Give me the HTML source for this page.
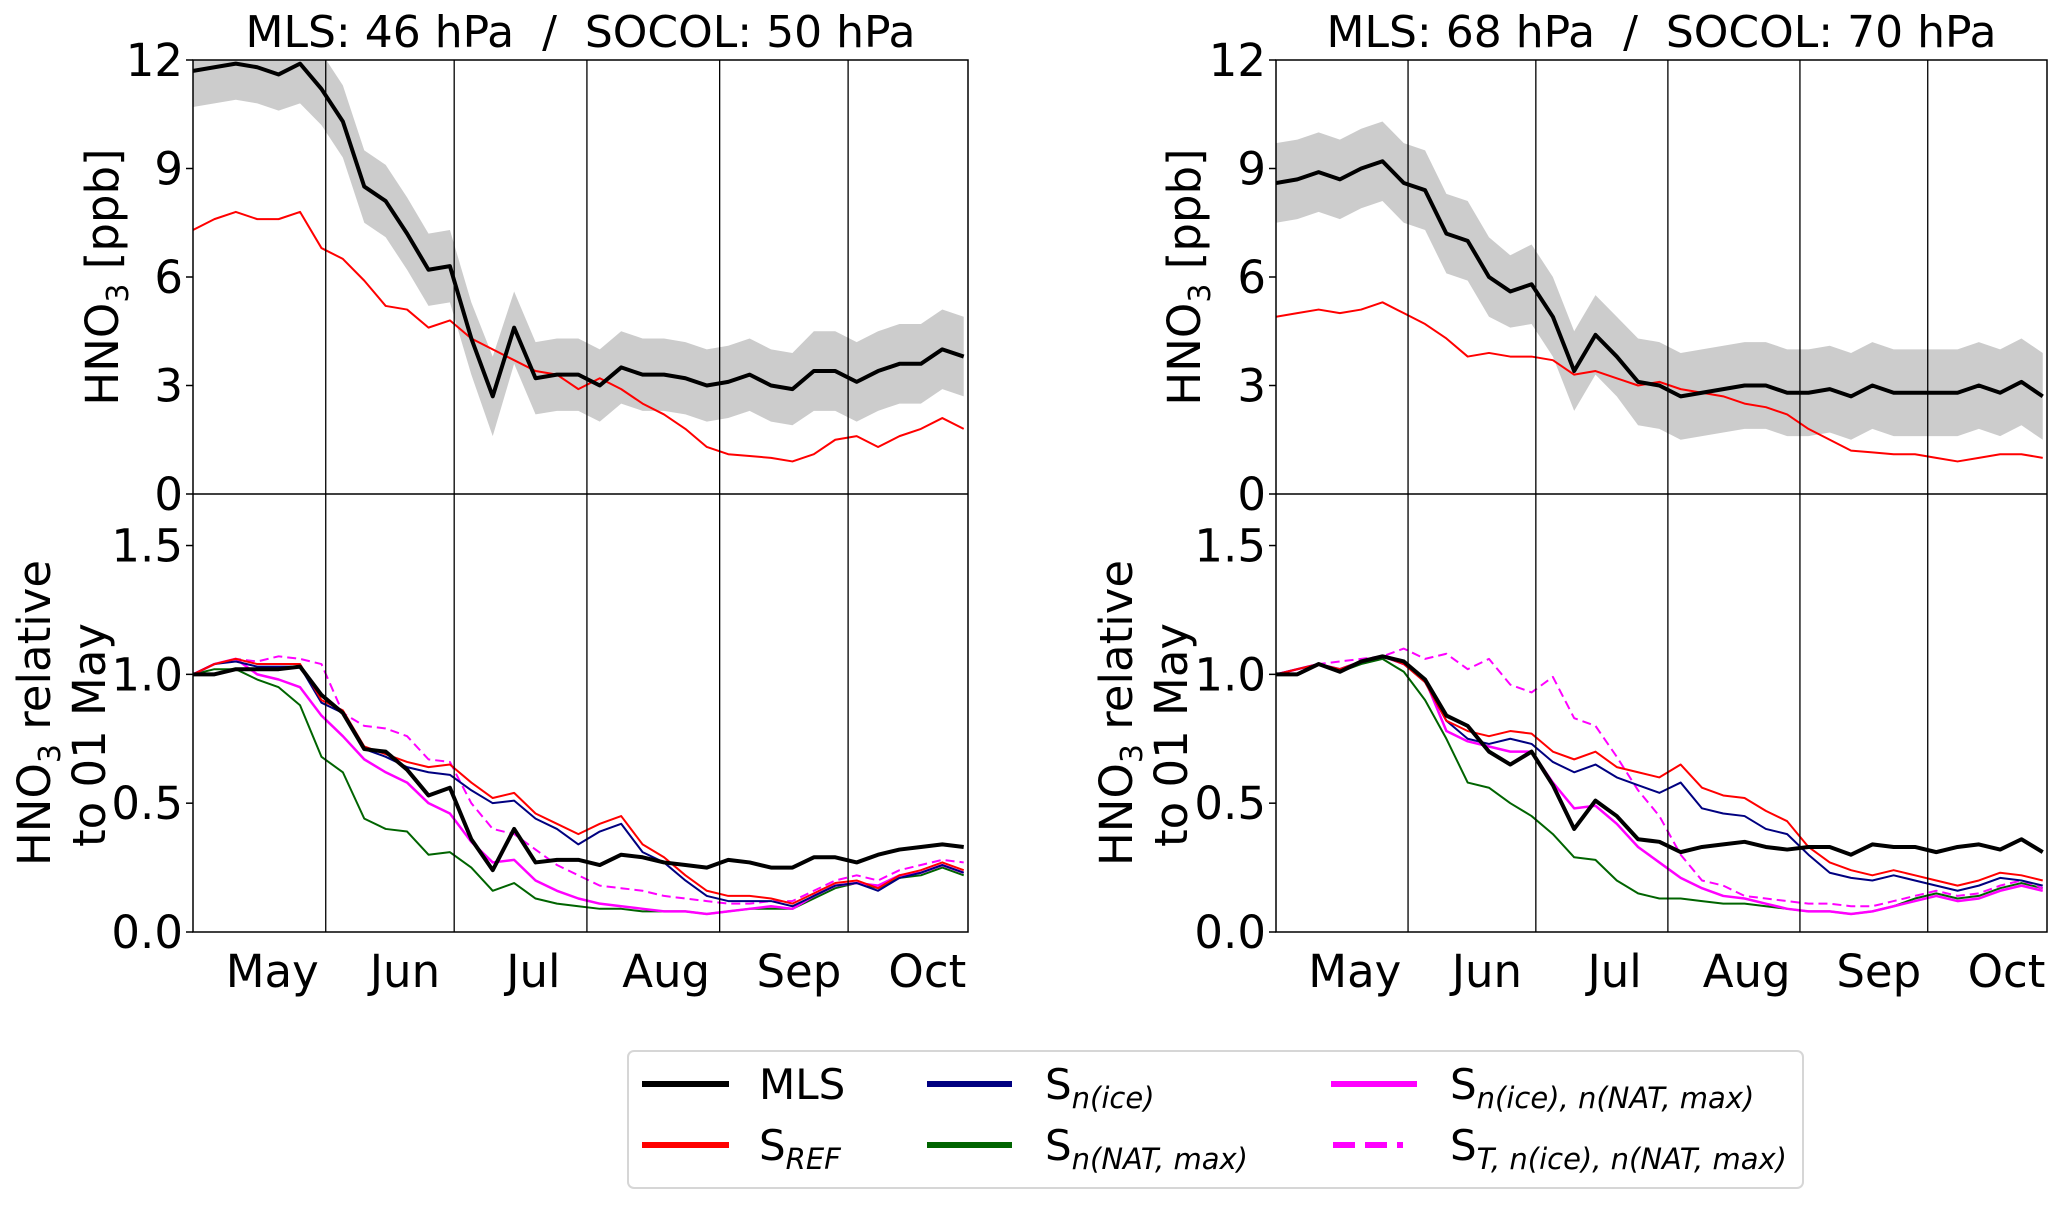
<!DOCTYPE html>
<html><head><meta charset="utf-8"><style>
html,body{margin:0;padding:0;background:#fff;}
svg{display:block;font-family:"DejaVu Sans","Liberation Sans",sans-serif;}
</style></head><body>
<svg id="chart" width="2067" height="1208" viewBox="0 0 2067 1208" xmlns="http://www.w3.org/2000/svg">
  <g>
    <rect x="628" y="1051" width="1175" height="137" rx="6" fill="#fff" stroke="#d6d6d6" stroke-width="2"/>
    <g><line x1="642" y1="1084" x2="729" y2="1084" stroke="#000" stroke-width="6"/><text x="759" y="1099" font-size="42">MLS</text></g>
    <g><line x1="642" y1="1145" x2="729" y2="1145" stroke="#f00" stroke-width="6"/><text x="759" y="1160" font-size="42">S<tspan font-size="29" font-style="italic" dy="9">REF</tspan></text></g>
    <g><line x1="927" y1="1084" x2="1012" y2="1084" stroke="#000080" stroke-width="6"/><text x="1045" y="1099" font-size="42">S<tspan font-size="29" font-style="italic" dy="9">n(ice)</tspan></text></g>
    <g><line x1="927" y1="1145" x2="1012" y2="1145" stroke="#006400" stroke-width="6"/><text x="1045" y="1160" font-size="42">S<tspan font-size="29" font-style="italic" dy="9">n(NAT, max)</tspan></text></g>
    <g><line x1="1331" y1="1084" x2="1417" y2="1084" stroke="#f0f" stroke-width="6"/><text x="1450" y="1099" font-size="42">S<tspan font-size="29" font-style="italic" dy="9">n(ice), n(NAT, max)</tspan></text></g>
    <g><line x1="1333" y1="1145" x2="1417" y2="1145" stroke="#f0f" stroke-width="6" stroke-dasharray="22,10,22,10,6"/><text x="1450" y="1160" font-size="42">S<tspan font-size="29" font-style="italic" dy="9">T, n(ice), n(NAT, max)</tspan></text></g>
  </g>
</svg>
<script>
const days=[0,5,10,15,20,25,30,35,40,45,50,55,60,65,70,75,80,85,90,95,100,105,110,115,120,125,130,135,140,145,150,155,160,165,170,175,180];
const monthNames=["May","Jun","Jul","Aug","Sep","Oct"];
const monthStarts=[0,31,61,92,123,153];
const topTicks=[0,3,6,9,12];
const botTicks=[0.0,0.5,1.0,1.5];
const botTickLabels=["0.0","0.5","1.0","1.5"];
// Left (46/50 hPa)
const L_mls=[11.7,11.8,11.9,11.8,11.6,11.9,11.2,10.3,8.5,8.1,7.2,6.2,6.3,4.3,2.7,4.6,3.2,3.3,3.3,3.0,3.5,3.3,3.3,3.2,3.0,3.1,3.3,3.0,2.9,3.4,3.4,3.1,3.4,3.6,3.6,4.0,3.8];
const L_err=[1.0,1.0,1.0,1.0,1.0,1.1,1.0,1.0,1.0,1.0,1.0,1.0,1.0,1.0,1.1,1.0,1.0,1.0,1.0,1.0,1.0,1.0,1.0,1.0,1.0,1.0,1.0,1.0,1.0,1.1,1.1,1.1,1.1,1.1,1.1,1.1,1.1];
const L_ref=[7.3,7.6,7.8,7.6,7.6,7.8,6.8,6.5,5.9,5.2,5.1,4.6,4.8,4.3,4.0,3.7,3.4,3.3,2.9,3.2,2.9,2.5,2.2,1.8,1.3,1.1,1.05,1.0,0.9,1.1,1.5,1.6,1.3,1.6,1.8,2.1,1.8];
const L_rMls=[1.0,1.0,1.02,1.02,1.02,1.03,0.92,0.85,0.71,0.70,0.63,0.53,0.56,0.36,0.24,0.40,0.27,0.28,0.28,0.26,0.30,0.29,0.27,0.26,0.25,0.28,0.27,0.25,0.25,0.29,0.29,0.27,0.30,0.32,0.33,0.34,0.33];
const L_rRef=[1.0,1.04,1.06,1.04,1.04,1.04,0.90,0.86,0.72,0.69,0.66,0.64,0.65,0.58,0.52,0.54,0.46,0.42,0.38,0.42,0.45,0.34,0.29,0.22,0.16,0.14,0.14,0.13,0.11,0.15,0.19,0.20,0.17,0.22,0.24,0.27,0.24];
const L_rIce=[1.0,1.04,1.05,1.03,1.03,1.03,0.89,0.85,0.71,0.68,0.64,0.62,0.61,0.55,0.50,0.51,0.44,0.40,0.34,0.39,0.42,0.31,0.27,0.20,0.14,0.12,0.12,0.12,0.10,0.14,0.18,0.19,0.16,0.21,0.23,0.26,0.23];
const L_rNat=[1.0,1.02,1.02,0.98,0.95,0.88,0.68,0.62,0.44,0.40,0.39,0.30,0.31,0.25,0.16,0.19,0.13,0.11,0.10,0.09,0.09,0.08,0.08,0.08,0.07,0.08,0.09,0.09,0.09,0.13,0.17,0.19,0.17,0.21,0.22,0.25,0.22];
const L_rIceNat=[1.0,1.04,1.06,1.0,0.98,0.95,0.84,0.76,0.67,0.62,0.58,0.50,0.46,0.35,0.27,0.28,0.20,0.16,0.13,0.11,0.10,0.09,0.08,0.08,0.07,0.08,0.09,0.10,0.09,0.14,0.18,0.19,0.18,0.22,0.23,0.26,0.23];
const L_rT=[1.0,1.04,1.06,1.05,1.07,1.06,1.04,0.85,0.80,0.79,0.76,0.67,0.66,0.50,0.40,0.38,0.32,0.26,0.22,0.18,0.17,0.16,0.14,0.13,0.12,0.11,0.11,0.12,0.12,0.16,0.20,0.22,0.20,0.24,0.26,0.28,0.27];
// Right (68/70 hPa)
const R_mls=[8.6,8.7,8.9,8.7,9.0,9.2,8.6,8.4,7.2,7.0,6.0,5.6,5.8,4.9,3.4,4.4,3.8,3.1,3.0,2.7,2.8,2.9,3.0,3.0,2.8,2.8,2.9,2.7,3.0,2.8,2.8,2.8,2.8,3.0,2.8,3.1,2.7];
const R_err=[1.1,1.1,1.1,1.1,1.1,1.1,1.1,1.1,1.1,1.1,1.1,1.0,1.1,1.1,1.1,1.1,1.1,1.2,1.2,1.2,1.2,1.2,1.2,1.2,1.2,1.2,1.2,1.2,1.2,1.2,1.2,1.2,1.2,1.2,1.2,1.2,1.2];
const R_ref=[4.9,5.0,5.1,5.0,5.1,5.3,5.0,4.7,4.3,3.8,3.9,3.8,3.8,3.7,3.3,3.4,3.2,3.0,3.1,2.9,2.8,2.7,2.5,2.4,2.2,1.8,1.5,1.2,1.15,1.1,1.1,1.0,0.9,1.0,1.1,1.1,1.0];
const R_rMls=[1.0,1.0,1.04,1.01,1.05,1.07,1.05,0.98,0.84,0.80,0.70,0.65,0.70,0.57,0.40,0.51,0.45,0.36,0.35,0.31,0.33,0.34,0.35,0.33,0.32,0.33,0.33,0.30,0.34,0.33,0.33,0.31,0.33,0.34,0.32,0.36,0.31];
const R_rRef=[1.0,1.02,1.04,1.02,1.05,1.07,1.04,0.97,0.82,0.78,0.76,0.78,0.77,0.70,0.67,0.70,0.64,0.62,0.60,0.65,0.56,0.53,0.52,0.47,0.43,0.33,0.27,0.24,0.22,0.24,0.22,0.20,0.18,0.20,0.23,0.22,0.20];
const R_rIce=[1.0,1.02,1.04,1.02,1.05,1.07,1.04,0.97,0.82,0.75,0.73,0.75,0.73,0.66,0.62,0.65,0.60,0.57,0.54,0.58,0.48,0.46,0.45,0.40,0.38,0.30,0.23,0.21,0.20,0.22,0.20,0.18,0.16,0.18,0.21,0.20,0.18];
const R_rNat=[1.0,1.02,1.04,1.01,1.04,1.06,1.01,0.90,0.75,0.58,0.56,0.50,0.45,0.38,0.29,0.28,0.20,0.15,0.13,0.13,0.12,0.11,0.11,0.10,0.09,0.08,0.08,0.07,0.08,0.10,0.13,0.15,0.13,0.14,0.17,0.19,0.17];
const R_rIceNat=[1.0,1.02,1.04,1.02,1.05,1.07,1.04,0.98,0.78,0.74,0.72,0.70,0.70,0.58,0.48,0.49,0.42,0.33,0.27,0.21,0.17,0.14,0.13,0.11,0.09,0.08,0.08,0.07,0.08,0.10,0.12,0.14,0.12,0.13,0.16,0.18,0.16];
const R_rT=[1.0,1.02,1.04,1.05,1.06,1.07,1.10,1.06,1.08,1.02,1.06,0.96,0.93,0.99,0.83,0.80,0.68,0.55,0.45,0.30,0.20,0.18,0.14,0.13,0.12,0.11,0.11,0.10,0.10,0.12,0.14,0.16,0.14,0.15,0.18,0.20,0.17];

const NS="http://www.w3.org/2000/svg";
const svg=document.getElementById('chart');
function mk(tag,attrs,parent,text){const e=document.createElementNS(NS,tag);for(const k in attrs)e.setAttribute(k,attrs[k]);if(text!==undefined)e.textContent=text;(parent||svg).appendChild(e);return e;}
const DMAX=181, TOPY=60, MIDY=494, BOTY=932;

function panel(x0,x1,title,d){
  const g=mk('g',{});
  
  
  const xs=v=>x0+(v/DMAX)*(x1-x0);
  const yt=v=>MIDY-(v/12)*(MIDY-TOPY);
  const yb=v=>BOTY-(v/1.7)*(BOTY-MIDY);
  const clip='clip'+d.name;
  const cp=mk('clipPath',{id:clip},g);mk('rect',{x:x0,y:TOPY,width:x1-x0,height:BOTY-TOPY},cp);
  const plot=mk('g',{'clip-path':'url(#'+clip+')'},g);
  let up=days.map((t,i)=>xs(t)+','+yt(d.mls[i]+d.err[i]));
  let lo=days.map((t,i)=>xs(t)+','+yt(d.mls[i]-d.err[i])).reverse();
  const band=mk('polygon',{points:up.concat(lo).join(' '),fill:'#cccccc'},plot);
  
  
  function line(arr,yf,col,w,nm,dash){
    const p=mk('polyline',{points:days.map((t,i)=>xs(t)+','+yf(arr[i])).join(' '),fill:'none',stroke:col,'stroke-width':w,'stroke-linejoin':'round'},plot);
    if(dash)p.setAttribute('stroke-dasharray',dash);
    
    
  }
  line(d.ref,yt,'#ff0000',2,'sref-line-top');
  line(d.mls,yt,'#000000',4,'mls-line-top');
  line(d.rNat,yb,'#006400',2,'s-nat-line');
  line(d.rT,yb,'#ff00ff',2,'s-t-ice-nat-line','9,5');
  line(d.rIceNat,yb,'#ff00ff',2.5,'s-ice-nat-line');
  line(d.rIce,yb,'#000080',2,'s-ice-line');
  line(d.rRef,yb,'#ff0000',2,'sref-line-bottom');
  line(d.rMls,yb,'#000000',4,'mls-line-bottom');
  monthStarts.slice(1).forEach(m=>{mk('line',{x1:xs(m),x2:xs(m),y1:TOPY,y2:BOTY,stroke:'#000','stroke-width':1.3},g);});
  mk('line',{x1:x0,x2:x1,y1:MIDY,y2:MIDY,stroke:'#000','stroke-width':1.5},g);
  mk('rect',{x:x0,y:TOPY,width:x1-x0,height:BOTY-TOPY,fill:'none',stroke:'#000','stroke-width':1.5},g);
  topTicks.forEach(v=>{mk('line',{x1:x0-7,x2:x0,y1:yt(v),y2:yt(v),stroke:'#000','stroke-width':1.5},g);
    const t=mk('text',{x:x0-10,y:yt(v)+16,'text-anchor':'end','font-size':45},g,String(v));
    });
  botTicks.forEach((v,i)=>{mk('line',{x1:x0-7,x2:x0,y1:yb(v),y2:yb(v),stroke:'#000','stroke-width':1.5},g);
    const t=mk('text',{x:x0-10,y:yb(v)+16,'text-anchor':'end','font-size':45},g,botTickLabels[i]);
    });
  monthNames.forEach((m,i)=>{const t=mk('text',{x:xs(monthStarts[i]+18.5),y:987,'text-anchor':'middle','font-size':45},g,m);
    });
  const tt=mk('text',{x:(x0+x1)/2,y:47,'text-anchor':'middle','font-size':44},g,title);
  
  const yl=mk('text',{transform:`translate(${d.ylx},277) rotate(-90)`,'text-anchor':'middle','font-size':45},g);
  
  yl.innerHTML='HNO<tspan font-size="30" dy="10">3</tspan><tspan dy="-10"> [ppb]</tspan>';
  const yl2=mk('text',{transform:`translate(${d.yl2x},713) rotate(-90)`,'text-anchor':'middle','font-size':45},g);
  
  yl2.innerHTML='HNO<tspan font-size="30" dy="10">3</tspan><tspan dy="-10"> relative</tspan>';
  const yl3=mk('text',{transform:`translate(${d.yl2x+55},735) rotate(-90)`,'text-anchor':'middle','font-size':45},g,'to 01 May');
  
}
panel(193,968,'MLS: 46 hPa \u00a0/\u00a0 SOCOL: 50 hPa',{name:'left-panel',mls:L_mls,err:L_err,ref:L_ref,rMls:L_rMls,rRef:L_rRef,rIce:L_rIce,rNat:L_rNat,rIceNat:L_rIceNat,rT:L_rT,ylx:118,yl2x:50});
panel(1276,2047,'MLS: 68 hPa \u00a0/\u00a0 SOCOL: 70 hPa',{name:'right-panel',mls:R_mls,err:R_err,ref:R_ref,rMls:R_rMls,rRef:R_rRef,rIce:R_rIce,rNat:R_rNat,rIceNat:R_rIceNat,rT:R_rT,ylx:1200,yl2x:1132});
</script>
</body></html>
